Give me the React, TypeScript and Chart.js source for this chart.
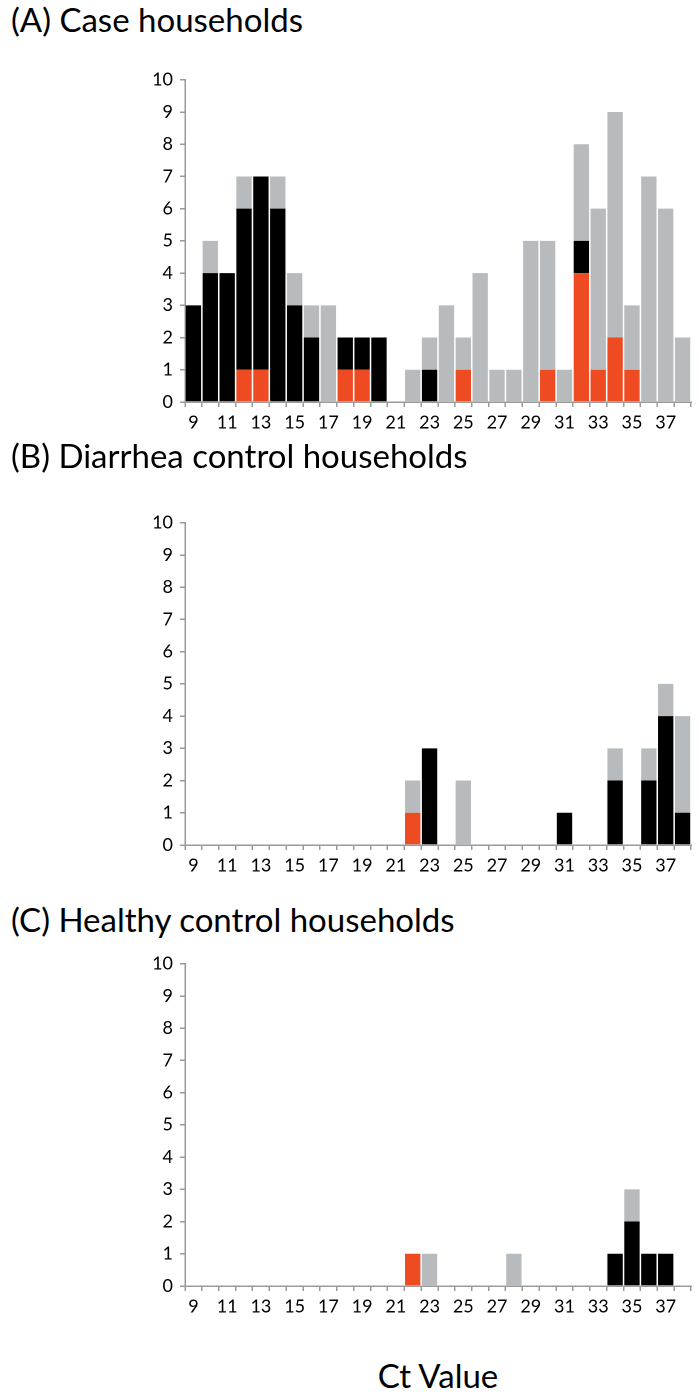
import { useEffect, useRef } from 'react';
import { Chart, registerables } from 'chart.js';

Chart.register(...registerables);

// Ct values 9..38
const ctValues = ['9', '10', '11', '12', '13', '14', '15', '16', '17', '18', '19', '20', '21', '22', '23',
    '24', '25', '26', '27', '28', '29', '30', '31', '32', '33', '34', '35', '36', '37', '38'];
const yTicks = [0, 1, 2, 3, 4, 5, 6, 7, 8, 9, 10];

// (A) Case households
const caseRed = [0, 0, 0, 1, 1, 0, 0, 0, 0, 1, 1, 0, 0, 0, 0, 0, 1, 0, 0, 0, 0, 1, 0, 4, 1, 2, 1, 0, 0, 0];
const caseBlack = [3, 4, 4, 5, 6, 6, 3, 2, 0, 1, 1, 2, 0, 0, 1, 0, 0, 0, 0, 0, 0, 0, 0, 1, 0, 0, 0, 0, 0, 0];
const caseGray = [0, 1, 0, 1, 0, 1, 1, 1, 3, 0, 0, 0, 0, 1, 1, 3, 1, 4, 1, 1, 5, 4, 1, 3, 5, 7, 2, 7, 6, 2];

// (B) Diarrhea control households
const diarRed = [0, 0, 0, 0, 0, 0, 0, 0, 0, 0, 0, 0, 0, 1, 0, 0, 0, 0, 0, 0, 0, 0, 0, 0, 0, 0, 0, 0, 0, 0];
const diarBlack = [0, 0, 0, 0, 0, 0, 0, 0, 0, 0, 0, 0, 0, 0, 3, 0, 0, 0, 0, 0, 0, 0, 1, 0, 0, 2, 0, 2, 4, 1];
const diarGray = [0, 0, 0, 0, 0, 0, 0, 0, 0, 0, 0, 0, 0, 1, 0, 0, 2, 0, 0, 0, 0, 0, 0, 0, 0, 1, 0, 1, 1, 3];

// (C) Healthy control households
const healthyRed = [0, 0, 0, 0, 0, 0, 0, 0, 0, 0, 0, 0, 0, 1, 0, 0, 0, 0, 0, 0, 0, 0, 0, 0, 0, 0, 0, 0, 0, 0];
const healthyBlack = [0, 0, 0, 0, 0, 0, 0, 0, 0, 0, 0, 0, 0, 0, 0, 0, 0, 0, 0, 0, 0, 0, 0, 0, 0, 1, 2, 1, 1, 0];
const healthyGray = [0, 0, 0, 0, 0, 0, 0, 0, 0, 0, 0, 0, 0, 0, 1, 0, 0, 0, 0, 1, 0, 0, 0, 0, 0, 0, 1, 0, 0, 0];

const RED = '#ee4b23';
const BLACK = '#000000';
const GRAY = '#b7bbbd';
const AXIS = '#9a9a9a';
const FONT = 'Lato, "Open Sans", sans-serif';

interface PanelProps {
    top: number;
    red: number[];
    black: number[];
    gray: number[];
}

const Panel: React.FC<PanelProps> = ({ top, red, black, gray }) => {
    const canvasRef = useRef<HTMLCanvasElement | null>(null);

    useEffect(() => {
        if (!canvasRef.current) return;
        const ctx = canvasRef.current.getContext('2d');
        if (!ctx) return;

        const mk = (data: number[], color: string) => ({
            data,
            backgroundColor: color,
            borderWidth: 0,
            barPercentage: 0.91,
            categoryPercentage: 1,
        });

        const chart = new Chart(ctx, {
            type: 'bar',
            data: {
                labels: ctValues,
                datasets: [mk(red, RED), mk(black, BLACK), mk(gray, GRAY)],
            },
            options: {
                animation: false,
                responsive: false,
                devicePixelRatio: 2,
                layout: { padding: { left: 0, right: 8, top: 10, bottom: 0 } },
                plugins: { legend: { display: false }, tooltip: { enabled: false } },
                scales: {
                    x: {
                        stacked: true,
                        offset: true,
                        grid: {
                            offset: true,
                            drawOnChartArea: false,
                            drawTicks: true,
                            tickLength: 5,
                            color: AXIS,
                            lineWidth: 1.5,
                        },
                        border: { display: true, color: AXIS, width: 1.5 },
                        ticks: {
                            autoSkip: false,
                            maxRotation: 0,
                            padding: 5,
                            color: '#000',
                            font: { family: FONT, size: 18 },
                            callback: (_v, i) => (i % 2 === 0 ? ctValues[i] : ''),
                        },
                        afterFit: (scale) => {
                            scale.height = 40;
                        },
                    },
                    y: {
                        stacked: true,
                        min: yTicks[0],
                        max: yTicks[yTicks.length - 1],
                        grid: {
                            drawOnChartArea: false,
                            drawTicks: true,
                            tickLength: 5,
                            color: AXIS,
                            lineWidth: 1.5,
                        },
                        border: { display: true, color: AXIS, width: 1.5 },
                        ticks: {
                            stepSize: 1,
                            padding: 7,
                            color: '#000',
                            font: { family: FONT, size: 18 },
                        },
                        afterFit: (scale) => {
                            scale.width = 185;
                        },
                    },
                },
            },
        });

        return () => {
            chart.destroy();
        };
    }, [red, black, gray]);

    return (
        <canvas
            ref={canvasRef}
            width={699}
            height={380}
            style={{ position: 'absolute', left: 0, top, width: 699, height: 380 }}
        ></canvas>
    );
};

const titleStyle = (top: number): React.CSSProperties => ({
    position: 'absolute',
    left: 11,
    top,
    fontFamily: FONT,
    fontSize: 33,
    lineHeight: 1,
    color: '#000',
    whiteSpace: 'nowrap',
});

export default function App() {
    return (
        <div style={{ position: 'absolute', left: 0, top: 0, width: 699, height: 1396, background: '#fff', overflow: 'hidden' }}>
            <div style={titleStyle(3)}>(A) Case households</div>
            <Panel top={62} red={caseRed} black={caseBlack} gray={caseGray} />
            <div style={titleStyle(439)}>(B) Diarrhea control households</div>
            <Panel top={505} red={diarRed} black={diarBlack} gray={diarGray} />
            <div style={titleStyle(903)}>(C) Healthy control households</div>
            <Panel top={946} red={healthyRed} black={healthyBlack} gray={healthyGray} />
            <div
                style={{
                    position: 'absolute',
                    left: 185,
                    width: 506,
                    top: 1359,
                    textAlign: 'center',
                    fontFamily: FONT,
                    fontSize: 33,
                    lineHeight: 1,
                    color: '#000',
                }}
            >
                Ct Value
            </div>
        </div>
    );
}
